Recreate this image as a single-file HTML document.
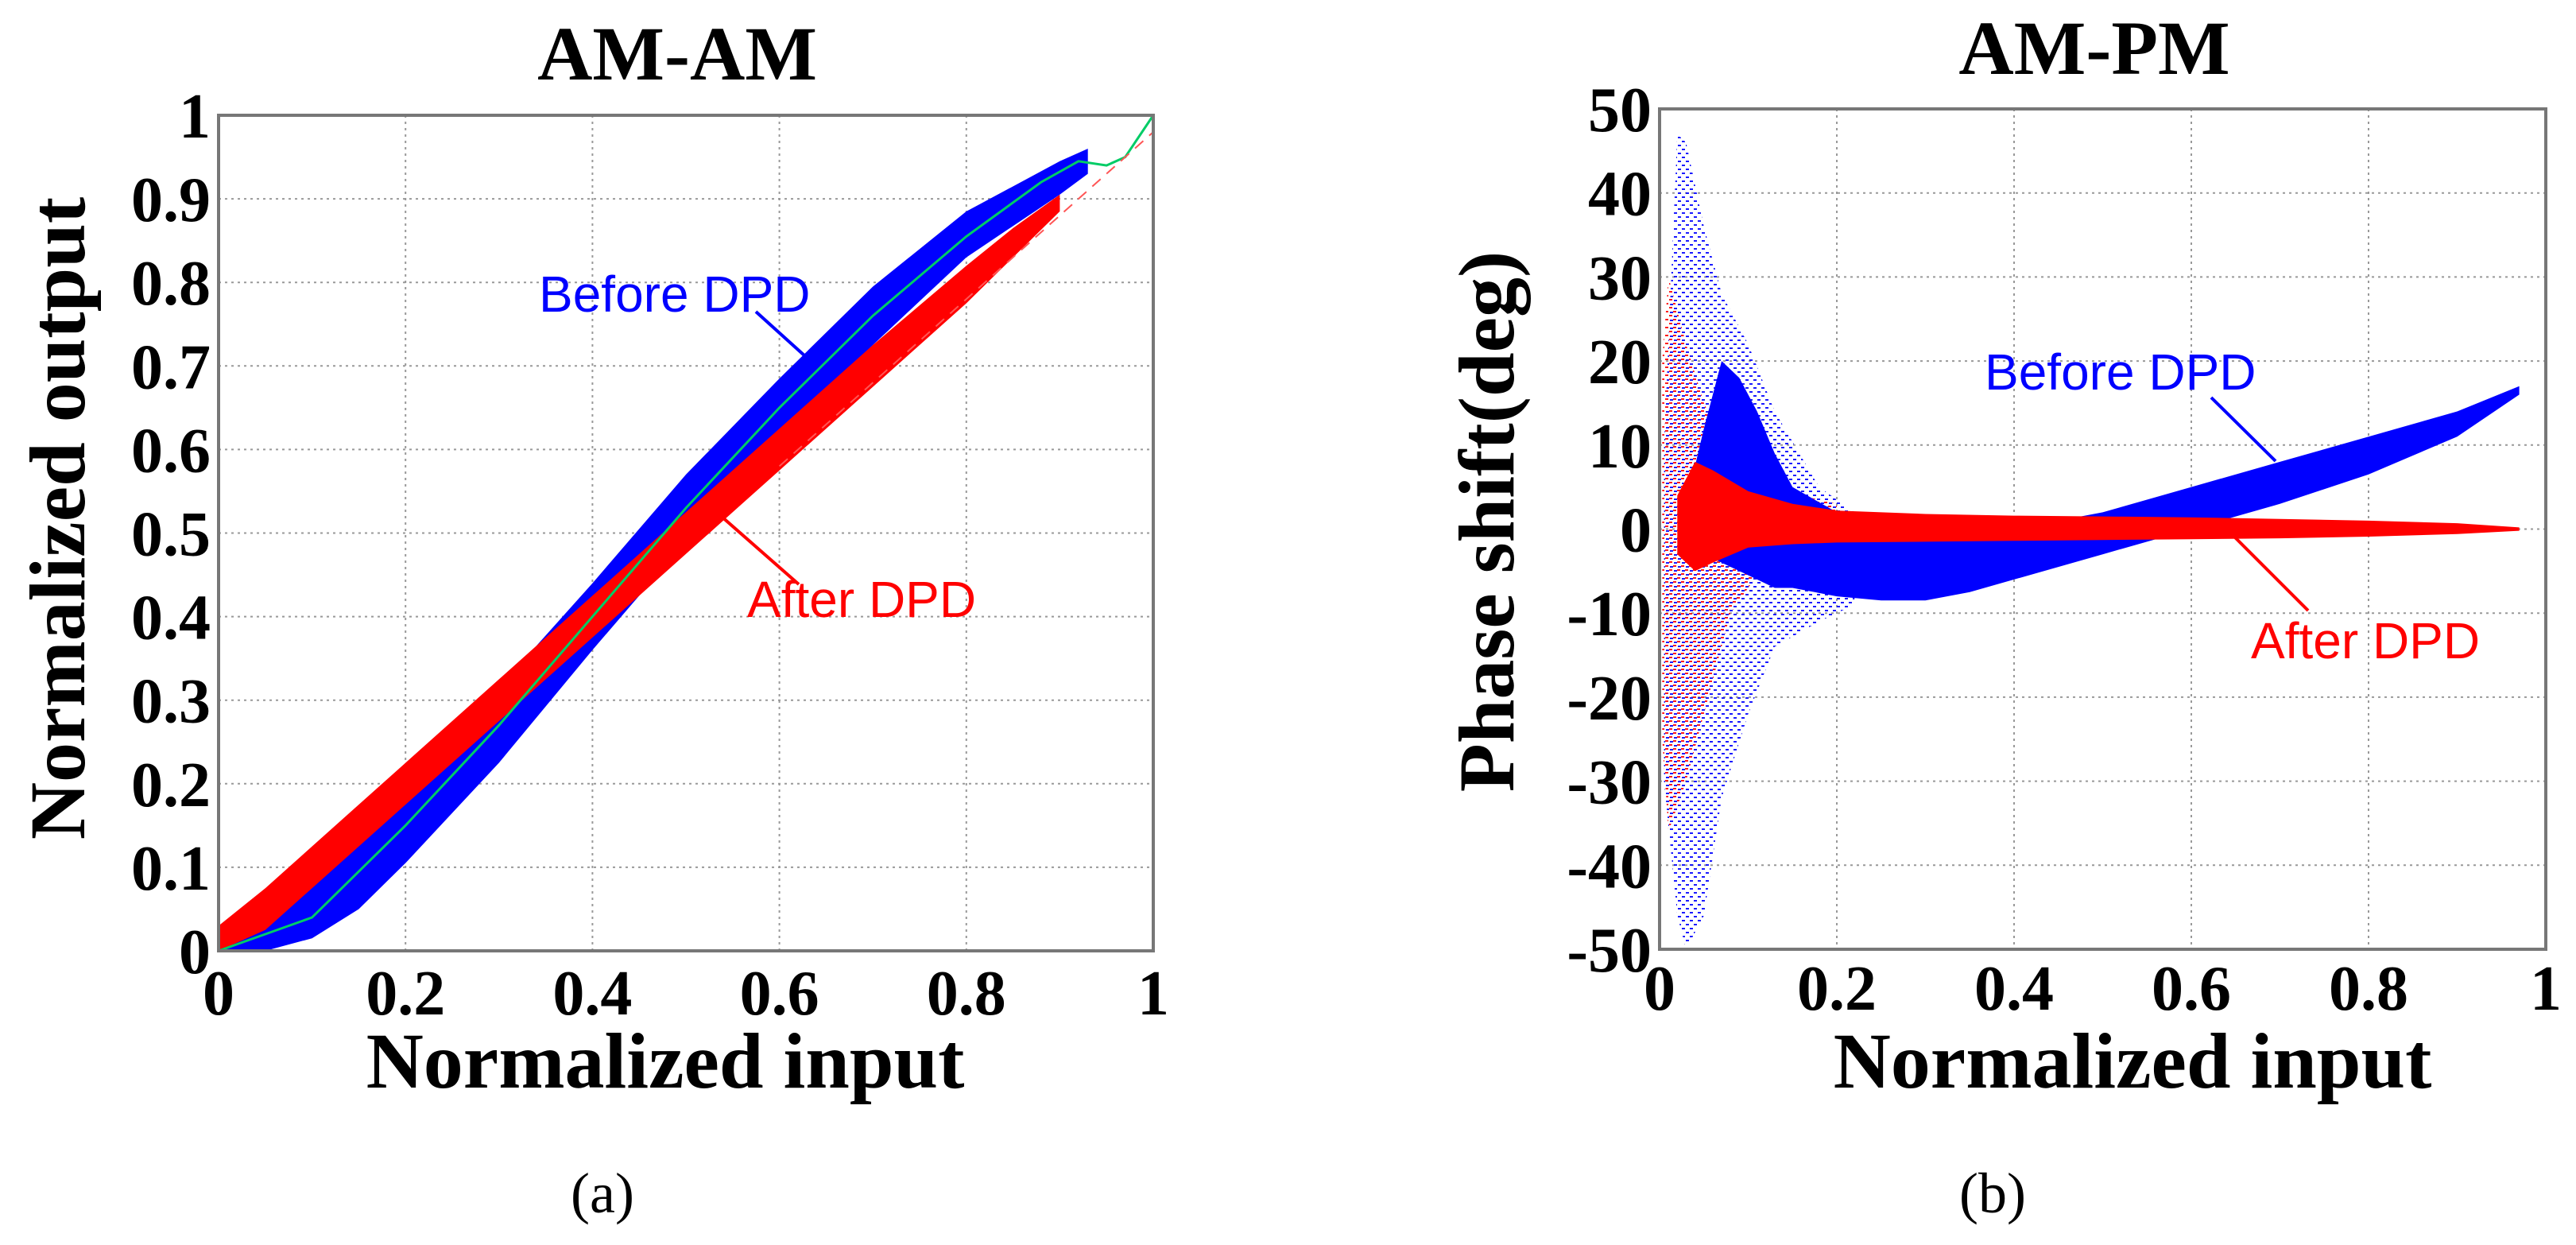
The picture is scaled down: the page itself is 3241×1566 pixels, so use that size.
<!DOCTYPE html>
<html><head><meta charset="utf-8"><title>AM-AM and AM-PM</title>
<style>
html,body{margin:0;padding:0;background:#fff;}
svg{display:block;}
.tk{font-family:"Liberation Serif",serif;font-weight:bold;font-size:80px;fill:#000;}
.ax{font-family:"Liberation Serif",serif;font-weight:bold;font-size:100px;fill:#000;}
.ttl{font-family:"Liberation Serif",serif;font-weight:bold;font-size:96px;fill:#000;}
.ann{font-family:"Liberation Sans",sans-serif;font-size:64px;}
.cap{font-family:"Liberation Serif",serif;font-size:72px;fill:#000;}
</style></head>
<body>
<svg id="fig" width="3241" height="1566" viewBox="0 0 3241 1566" xmlns="http://www.w3.org/2000/svg">
<defs>
<pattern id="pb" width="10" height="10" patternUnits="userSpaceOnUse"><rect x="1" y="2" width="4" height="2" fill="#0000ff"/><rect x="6" y="7" width="4" height="2" fill="#0000ff"/></pattern>
<pattern id="pr" width="10" height="10" patternUnits="userSpaceOnUse"><rect x="5" y="1" width="4" height="2" fill="#ff0000"/><rect x="0" y="6" width="4" height="2" fill="#ff0000"/></pattern>
</defs>
<g id="pa"></g>
<g id="pb2"></g>
</svg>
<script>
// ---- AM-AM data ----
const amX = [0,0.05,0.1,0.15,0.2,0.3,0.4,0.5,0.6,0.7,0.8,0.9,0.93];
const amBeforeHi = [0.02,0.04,0.08,0.135,0.195,0.315,0.44,0.57,0.685,0.795,0.885,0.945,0.96];
const amBeforeLo = [0,0,0.015,0.05,0.105,0.225,0.36,0.49,0.615,0.725,0.83,0.905,0.93];
const amAfterX = [0,0.05,0.1,0.2,0.3,0.4,0.5,0.6,0.7,0.8,0.85,0.9];
const amAfterHi = [0.03,0.075,0.125,0.225,0.325,0.425,0.525,0.625,0.725,0.82,0.865,0.905];
const amAfterLo = [0,0.025,0.075,0.175,0.275,0.375,0.475,0.575,0.675,0.775,0.83,0.885];
const amFitX = [0,0.1,0.2,0.3,0.4,0.5,0.6,0.7,0.8,0.88,0.92,0.95,0.97,1];
const amFitY = [0,0.04,0.15,0.27,0.40,0.53,0.65,0.76,0.855,0.92,0.945,0.94,0.95,1];
const amYTicks = [0,0.1,0.2,0.3,0.4,0.5,0.6,0.7,0.8,0.9,1];
const amYLabels = ["0","0.1","0.2","0.3","0.4","0.5","0.6","0.7","0.8","0.9","1"];
const amXTicks = [0,0.2,0.4,0.6,0.8,1];
const amXLabels = ["0","0.2","0.4","0.6","0.8","1"];
// ---- AM-PM data ----
const pmSparseBX = [0.005,0.02,0.03,0.05,0.07,0.1,0.13,0.18,0.22];
const pmSparseBHi = [10,47,46,36,28,22,14,5,2];
const pmSparseBLo = [-30,-46,-50,-46,-32,-22,-14,-11,-9];
const pmDenseBX = [0.03,0.05,0.07,0.09,0.11,0.13,0.15,0.2,0.25,0.3,0.35,0.4,0.5,0.6,0.7,0.8,0.9,0.97];
const pmDenseBHi = [3,12,20,18,14,9,5,2,0,-1,-1,0,2,5,8,11,14,17];
const pmDenseBLo = [0,-3,-4,-5,-6,-7,-7,-8,-8.5,-8.5,-7.5,-6,-3,0,3,6.5,11,16];
const pmSparseRX = [0.003,0.01,0.03,0.05,0.08,0.12,0.2];
const pmSparseRHi = [20,30,22,15,8,5,3];
const pmSparseRLo = [-25,-36,-30,-22,-10,-4,-2];
const pmDenseRX = [0.02,0.04,0.06,0.1,0.15,0.2,0.3,0.4,0.5,0.6,0.7,0.8,0.9,0.97];
const pmDenseRHi = [4,8,7,4.5,3,2.2,1.8,1.6,1.5,1.4,1.2,1,0.7,0.2];
const pmDenseRLo = [-3,-5,-4,-2.2,-1.8,-1.6,-1.5,-1.4,-1.3,-1.2,-1.1,-0.9,-0.6,-0.2];
const pmYTicks = [-50,-40,-30,-20,-10,0,10,20,30,40,50];
const pmYLabels = ["-50","-40","-30","-20","-10","0","10","20","30","40","50"];
const pmXTicks = [0,0.2,0.4,0.6,0.8,1];
const pmXLabels = ["0","0.2","0.4","0.6","0.8","1"];

const NS="http://www.w3.org/2000/svg";
function mk(parent,tag,attrs,text){const e=document.createElementNS(NS,tag);for(const k in attrs)e.setAttribute(k,attrs[k]);if(text!==undefined)e.textContent=text;parent.appendChild(e);return e;}
function lin(d0,d1,r0,r1){return v=>r0+(v-d0)/(d1-d0)*(r1-r0);}

function band(g,xs,hi,lo,sx,sy,fill,op,name){
  let pts=[];
  for(let i=0;i<xs.length;i++)pts.push(sx(xs[i]).toFixed(1)+","+sy(hi[i]).toFixed(1));
  for(let i=xs.length-1;i>=0;i--)pts.push(sx(xs[i]).toFixed(1)+","+sy(lo[i]).toFixed(1));
  const p=mk(g,"polygon",{points:pts.join(" "),fill:fill,opacity:op,"stroke-linejoin":"round"});
  
  
}

function axes(g,L,R,T,B,xt,xl,yt,yl,sx,sy,prefix,xoff){
  yt.forEach((v,i)=>{
    const y=sy(v);
    if(i>0&&i<yt.length-1){const gl=mk(g,"line",{x1:L,x2:R,y1:y,y2:y,stroke:"#999","stroke-width":2,"stroke-dasharray":"3 5"});
      
      }
    const t=mk(g,"text",{x:L-10,y:y+28,"text-anchor":"end",class:"tk"},yl[i]);
    
    
  });
  xt.forEach((v,i)=>{
    const x=sx(v);
    if(i>0&&i<xt.length-1){const gl=mk(g,"line",{x1:x,x2:x,y1:T,y2:B,stroke:"#999","stroke-width":2,"stroke-dasharray":"3 5"});
      
      }
    const t=mk(g,"text",{x:x,y:B+xoff,"text-anchor":"middle",class:"tk"},xl[i]);
    
    
  });
}
function frame(g,L,R,T,B,prefix){
  const r=mk(g,"rect",{x:L,y:T,width:R-L,height:B-T,fill:"none",stroke:"#777","stroke-width":4});
  
  
}
function poly(g,xs,ys,sx,sy,stroke,w,name,dash){
  const pts=xs.map((x,i)=>sx(x).toFixed(1)+","+sy(ys[i]).toFixed(1)).join(" ");
  const a={points:pts,fill:"none",stroke:stroke,"stroke-width":w};if(dash)a["stroke-dasharray"]=dash;
  const p=mk(g,"polyline",a);
  
  
}
function label(g,x,y,txt,cls,name,extra){
  const t=mk(g,"text",Object.assign({x:x,y:y,class:cls},extra||{}),txt);
  
  
  return t;
}
function leader(g,x1,y1,x2,y2,c,name){
  const l=mk(g,"line",{x1:x1,y1:y1,x2:x2,y2:y2,stroke:c,"stroke-width":4});
  
  
}

// ---- AM-AM ----
(function(){
  const g=document.getElementById("pa");
  const L=275,R=1451,T=145,B=1196;
  const sx=lin(0,1,L,R), sy=lin(0,1,B,T);
  axes(g,L,R,T,B,amXTicks,amXLabels,amYTicks,amYLabels,sx,sy,"am-am-",80);
  band(g,amX,amBeforeHi,amBeforeLo,sx,sy,"#0000ff",1,"am-am-before-dpd-band");
  band(g,amAfterX,amAfterHi,amAfterLo,sx,sy,"#ff0000",1,"am-am-after-dpd-band");
  poly(g,amFitX,amFitY,sx,sy,"#00cc66",3,"am-am-fit-line");
  poly(g,[0.6,1],[0.58,0.98],sx,sy,"#ff5555",2,"am-am-reference-dashed-line","14 10");
  frame(g,L,R,T,B,"am-am-");
  label(g,852,100,"AM-AM","ttl","am-am-title",{"text-anchor":"middle"});
  label(g,837,1368,"Normalized input","ax","am-am-x-axis-title",{"text-anchor":"middle"});
  label(g,0,0,"Normalized output","ax","am-am-y-axis-title",{"text-anchor":"middle",transform:"translate(106,652) rotate(-90)"});
  label(g,678,392,"Before DPD","ann","am-am-before-dpd-label",{fill:"#0000ff"});
  leader(g,951,392,1013,448,"#0000ff","am-am-before-dpd-leader");
  label(g,940,776,"After DPD","ann","am-am-after-dpd-label",{fill:"#ff0000"});
  leader(g,899,642,1005,735,"#ff0000","am-am-after-dpd-leader");
  label(g,758,1525,"(a)","cap","caption-a",{"text-anchor":"middle"});
})();

// ---- AM-PM ----
(function(){
  const g=document.getElementById("pb2");
  const L=2088,R=3203,T=137,B=1194;
  const sx=lin(0,1,L,R), sy=lin(-50,50,B,T);
  axes(g,L,R,T,B,pmXTicks,pmXLabels,pmYTicks,pmYLabels,sx,sy,"am-pm-",76);
  band(g,pmSparseBX,pmSparseBHi,pmSparseBLo,sx,sy,"url(#pb)",0.9,"am-pm-before-dpd-sparse");
  band(g,pmSparseRX,pmSparseRHi,pmSparseRLo,sx,sy,"url(#pr)",0.9,"am-pm-after-dpd-sparse");
  band(g,pmDenseBX,pmDenseBHi,pmDenseBLo,sx,sy,"#0000ff",1,"am-pm-before-dpd-band");
  band(g,pmDenseRX,pmDenseRHi,pmDenseRLo,sx,sy,"#ff0000",1,"am-pm-after-dpd-band");
  frame(g,L,R,T,B,"am-pm-");
  label(g,2635,93,"AM-PM","ttl","am-pm-title",{"text-anchor":"middle"});
  label(g,2683,1368,"Normalized input","ax","am-pm-x-axis-title",{"text-anchor":"middle"});
  label(g,0,0,"Phase shift(deg)","ax","am-pm-y-axis-title",{"text-anchor":"middle",transform:"translate(1904,656) rotate(-90)"});
  label(g,2497,490,"Before DPD","ann","am-pm-before-dpd-label",{fill:"#0000ff"});
  leader(g,2782,500,2863,580,"#0000ff","am-pm-before-dpd-leader");
  label(g,2832,828,"After DPD","ann","am-pm-after-dpd-label",{fill:"#ff0000"});
  leader(g,2811,675,2904,768,"#ff0000","am-pm-after-dpd-leader");
  label(g,2507,1525,"(b)","cap","caption-b",{"text-anchor":"middle"});
})();
</script>
</body></html>
